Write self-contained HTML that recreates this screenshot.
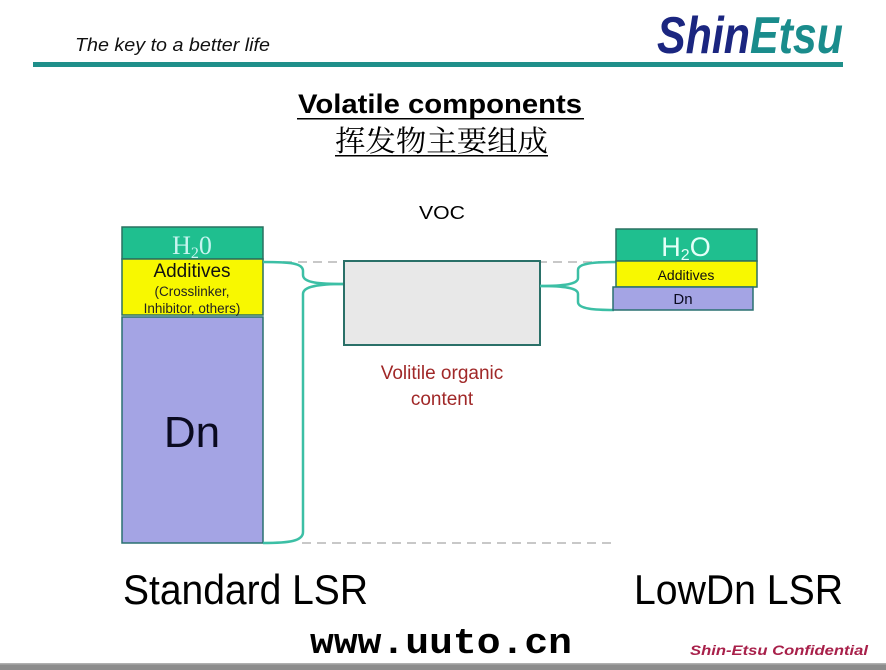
<!DOCTYPE html>
<html><head><meta charset="utf-8">
<style>
html,body{margin:0;padding:0;background:#fff;}
svg{display:block;}
</style></head>
<body>
<svg width="886" height="670" viewBox="0 0 886 670" xmlns="http://www.w3.org/2000/svg">
<rect x="0" y="0" width="886" height="670" fill="#ffffff"/>
<!-- header -->
<text x="75" y="51" font-family="Liberation Sans, sans-serif" font-style="italic" font-size="18" fill="#111" textLength="195" lengthAdjust="spacingAndGlyphs">The key to a better life</text>
<text x="657" y="53" font-family="Liberation Sans, sans-serif" font-style="italic" font-weight="bold" font-size="52" textLength="186" lengthAdjust="spacingAndGlyphs"><tspan fill="#1b2680">Shin</tspan><tspan fill="#1a8c8c">Etsu</tspan></text>
<rect x="33" y="62" width="810" height="5" fill="#1f8f8a"/>
<!-- title -->
<text x="298" y="113" font-family="Liberation Sans, sans-serif" font-weight="bold" font-size="27" fill="#000" textLength="284" lengthAdjust="spacingAndGlyphs">Volatile components</text>
<rect x="297" y="118" width="287" height="1.5" fill="#000"/>
<text x="335" y="151" font-family="'Noto Serif CJK SC', 'Noto Sans CJK SC', serif" font-size="29" fill="#000" textLength="213" lengthAdjust="spacingAndGlyphs">挥发物主要组成</text>
<rect x="335" y="155" width="213" height="1.5" fill="#000"/>
<!-- VOC -->
<text x="419" y="219" font-family="Liberation Sans, sans-serif" font-size="18" fill="#000" textLength="46" lengthAdjust="spacingAndGlyphs">VOC</text>
<!-- dashed lines -->
<line x1="283" y1="262" x2="617" y2="262" stroke="#c8c8c8" stroke-width="2" stroke-dasharray="9,6"/>
<line x1="302" y1="543" x2="617" y2="543" stroke="#c8c8c8" stroke-width="2" stroke-dasharray="9,6"/>
<!-- left stack -->
<rect x="122" y="227" width="141" height="32" fill="#1fbf8f" stroke="#2a7060" stroke-width="1.5"/>
<text x="192" y="254" text-anchor="middle" font-family="Liberation Serif, serif" font-size="26" fill="#c8f4f0">H<tspan font-size="16" dy="4">2</tspan><tspan dy="-4">0</tspan></text>
<rect x="122" y="259" width="141" height="56" fill="#f8f800" stroke="#2a7060" stroke-width="1.5"/>
<text x="192" y="277" text-anchor="middle" font-family="Liberation Sans, sans-serif" font-size="19" fill="#111">Additives</text>
<text x="192" y="296" text-anchor="middle" font-family="Liberation Sans, sans-serif" font-size="13.5" fill="#222">(Crosslinker,</text>
<text x="192" y="313" text-anchor="middle" font-family="Liberation Sans, sans-serif" font-size="13.5" fill="#222">Inhibitor,  others)</text>
<rect x="122" y="317" width="141" height="226" fill="#a4a4e4" stroke="#2a7070" stroke-width="1.5"/>
<text x="192" y="447" text-anchor="middle" font-family="Liberation Sans, sans-serif" font-size="44" fill="#0a0a20">Dn</text>
<!-- left bracket -->
<path d="M263,262 C290,262 303,263 303,271 L303,275 C303,283 320,284 344,284" fill="none" stroke="#3cbfa5" stroke-width="2.5"/>
<path d="M344,284 C320,284 303,286 303,294 L303,532 C303,541 290,543 263,543" fill="none" stroke="#3cbfa5" stroke-width="2.5"/>
<!-- center box -->
<rect x="344" y="261" width="196" height="84" fill="#e8e8e8" stroke="#2a7068" stroke-width="2"/>
<text x="442" y="379" text-anchor="middle" font-family="Liberation Sans, sans-serif" font-size="19" fill="#a02828">Volitile organic</text>
<text x="442" y="405" text-anchor="middle" font-family="Liberation Sans, sans-serif" font-size="19" fill="#a02828">content</text>
<!-- right bracket -->
<path d="M540,286 C565,286 578,284 578,278 L578,270 C578,263 595,262 617,262" fill="none" stroke="#3cbfa5" stroke-width="2.5"/>
<path d="M540,286 C565,286 578,288 578,294 L578,302 C578,309 595,310 614,310" fill="none" stroke="#3cbfa5" stroke-width="2.5"/>
<!-- right stack -->
<rect x="616" y="229" width="141" height="32" fill="#1fbf8f" stroke="#2a7060" stroke-width="1.5"/>
<text x="686" y="256" text-anchor="middle" font-family="Liberation Sans, sans-serif" font-size="27" fill="#e4fff8">H<tspan font-size="16" dy="4">2</tspan><tspan dy="-4">O</tspan></text>
<rect x="616" y="261" width="141" height="26" fill="#f8f800" stroke="#2a7060" stroke-width="1.5"/>
<text x="686" y="280" text-anchor="middle" font-family="Liberation Sans, sans-serif" font-size="14" fill="#111">Additives</text>
<rect x="613" y="287" width="140" height="23" fill="#a4a4e4" stroke="#2a7070" stroke-width="1.5"/>
<text x="683" y="304" text-anchor="middle" font-family="Liberation Sans, sans-serif" font-size="15" fill="#0a0a20">Dn</text>
<!-- labels -->
<text x="123" y="604" font-family="Liberation Sans, sans-serif" font-size="42" fill="#000" textLength="245" lengthAdjust="spacingAndGlyphs">Standard LSR</text>
<text x="634" y="604" font-family="Liberation Sans, sans-serif" font-size="42" fill="#000" textLength="209" lengthAdjust="spacingAndGlyphs">LowDn LSR</text>
<text x="310" y="653" font-family="Liberation Mono, monospace" font-weight="bold" font-size="36" fill="#000" textLength="262" lengthAdjust="spacingAndGlyphs">www.uuto.cn</text>
<text x="690" y="655" font-family="Liberation Sans, sans-serif" font-style="italic" font-weight="bold" font-size="14" fill="#a8204a" textLength="178" lengthAdjust="spacingAndGlyphs">Shin-Etsu  Confidential</text>
<!-- bottom bar -->
<rect x="0" y="663" width="886" height="7" fill="#8c8c8c"/>
<rect x="0" y="663" width="886" height="1.5" fill="#b0b0b0"/>
</svg>
</body></html>
